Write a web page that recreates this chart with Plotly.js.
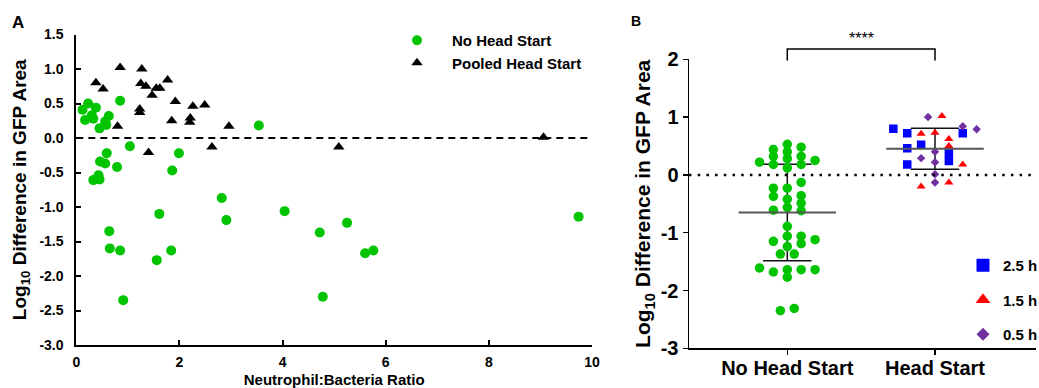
<!DOCTYPE html>
<html><head><meta charset="utf-8">
<script src="https://cdn.plot.ly/plotly-3.0.1.min.js"></script>
<style>html,body{margin:0;padding:0;background:#fff}#chart{width:1039px;height:388px}</style>
</head><body><div id="chart"></div>
<script>
// ---------- Panel A data ----------
const ratioNoHeadStart = [0.23,0.38,0.12,0.30,0.17,0.33,0.45,0.56,0.63,0.58,0.85,3.54,1.04,0.59,0.46,0.56,0.79,1.99,1.86,0.33,0.43,0.45,2.82,1.61,0.64,0.65,0.85,1.56,1.84,0.91,2.91,4.04,4.72,5.25,5.60,5.76,4.78,9.74];
const diffNoHeadStart  = [0.50,0.44,0.41,0.33,0.26,0.28,0.14,0.24,0.32,0.19,0.54,0.18,-0.12,-0.22,-0.34,-0.37,-0.42,-0.22,-0.47,-0.61,-0.54,-0.60,-0.87,-1.10,-1.35,-1.60,-1.63,-1.77,-1.63,-2.35,-1.19,-1.06,-1.37,-1.23,-1.67,-1.63,-2.30,-1.14];
const ratioPooledHeadStart = [0.38,0.52,0.85,1.27,0.80,1.25,1.35,1.47,1.55,1.62,1.77,1.23,1.23,1.92,1.85,2.21,2.20,2.26,2.49,2.96,1.40,2.63,5.09,9.06];
const diffPooledHeadStart  = [0.80,0.71,1.02,1.00,0.17,0.79,0.75,0.62,0.72,0.72,0.84,0.42,0.37,0.53,0.25,0.29,0.23,0.46,0.48,0.17,-0.21,-0.13,-0.13,0.01];
const aYTickVals = [1.5,1.0,0.5,0,-0.5,-1.0,-1.5,-2.0,-2.5,-3.0];
const aYTickText = ['1.5','1.0','0.5','0.0','-0.5','-1.0','-1.5','-2.0','-2.5','-3.0'];
const aXTickVals = [0,2,4,6,8,10];
const aXTickText = ['0','2','4','6','8','10'];

// ---------- Panel B data ----------
const groupLabels = ['No Head Start','Head Start'];
const bNoHeadStart    = [0.53,0.44,0.48,0.40,0.32,0.32,0.28,0.22,0.25,0.18,0.18,0.12,-0.13,-0.23,-0.23,-0.37,-0.36,-0.42,-0.49,-0.56,-0.61,-0.62,-0.89,-1.15,-1.06,-1.06,-1.12,-1.19,-1.24,-1.37,-1.37,-1.61,-1.68,-1.64,-1.64,-1.64,-1.77,-2.35,-2.31];
const bNoHeadStartCol = [0,-1,1,0,-1,1,0,-2,2,-1,1,0,1,-1,0,-1,1,0,1,0,-1,1,0,-1,0,1,2,1,0,-0.5,0.5,-2,-1,0,1,2,0,-0.5,0.5];
const b25h    = [0.80,0.72,0.46,0.52,0.18,0.37,0.24,0.72];
const b25hCol = [-3,-2,-2,-1,-2,1,1,2];
const b15h    = [1.02,0.71,0.73,0.62,0.50,0.18,-0.20,-0.13];
const b15hCol = [0.5,-1,0,1,1,2,-1,1];
const b05h    = [1.00,0.84,0.79,0.40,0.29,0.22,0.01,-0.13];
const b05hCol = [-0.5,2,3,0,-1,0,0,0];
const timeLabels = ['2.5 h','1.5 h','0.5 h'];
const bYTickVals = [2,1,0,-1,-2,-3];
const bYTickText = ['2','1','0','-1','-2','-3'];

// ---------- layout constants ----------
const FONT = 'Arial, "Liberation Sans", sans-serif';
const W = 1039, H = 388;
const axA = {x:[76.3/W, 592/W], y:[(H-345)/H, (H-34.5)/H]};
const axB = {x:[689/W, 1036/W], y:[(H-348.3)/H, (H-59.3)/H]};
const xRangeB = [-0.6655, 1.6838];
const yRangeB = [-3, 2];
const colStep = 0.094;
const GREEN = '#00c400', BLUE = '#0000ff', RED = '#ff0000', PURPLE = '#7030a0';

function mean(a){return a.reduce((s,v)=>s+v,0)/a.length;}
function sd(a){const m=mean(a);return Math.sqrt(a.reduce((s,v)=>s+(v-m)*(v-m),0)/(a.length-1));}
function paperX(v){return axB.x[0]+(v-xRangeB[0])/(xRangeB[1]-xRangeB[0])*(axB.x[1]-axB.x[0]);}
function paperY(v){return axB.y[0]+(v-yRangeB[0])/(yRangeB[1]-yRangeB[0])*(axB.y[1]-axB.y[0]);}

const headStartAll = b25h.concat(b15h, b05h);
const groups = [bNoHeadStart, headStartAll];

const traces = [];
// Panel A
traces.push({x:ratioNoHeadStart, y:diffNoHeadStart, type:'scatter', mode:'markers', name:'No Head Start',
  marker:{color:GREEN, size:10, symbol:'circle'}, xaxis:'x', yaxis:'y', legend:'legend', cliponaxis:false});
traces.push({x:ratioPooledHeadStart, y:diffPooledHeadStart, type:'scatter', mode:'markers', name:'Pooled Head Start',
  marker:{color:'#000', size:10, symbol:'triangle-up'}, xaxis:'x', yaxis:'y', legend:'legend', cliponaxis:false});

// Panel B: SD lines
groups.forEach((g,i)=>{
  const m = mean(g), s = sd(g);
  traces.push({x:[i,i], y:[m-s,m+s], type:'scatter', mode:'lines', line:{color:'#111', width:1.5}, xaxis:'x2', yaxis:'y2', showlegend:false, hoverinfo:'skip'});
  traces.push({x:[i-0.164,i+0.164], y:[m+s,m+s], type:'scatter', mode:'lines', line:{color:'#111', width:1.5}, xaxis:'x2', yaxis:'y2', showlegend:false, hoverinfo:'skip'});
  traces.push({x:[i-0.164,i+0.164], y:[m-s,m-s], type:'scatter', mode:'lines', line:{color:'#111', width:1.5}, xaxis:'x2', yaxis:'y2', showlegend:false, hoverinfo:'skip'});
});
// Panel B points
traces.push({x:bNoHeadStartCol.map(c=>0+c*colStep), y:bNoHeadStart, type:'scatter', mode:'markers',
  marker:{color:GREEN, size:9.5}, xaxis:'x2', yaxis:'y2', showlegend:false});
traces.push({x:b25hCol.map(c=>1+c*colStep), y:b25h, type:'scatter', mode:'markers',
  marker:{color:BLUE, size:8.5, symbol:'square'}, xaxis:'x2', yaxis:'y2', showlegend:false});
traces.push({x:b15hCol.map(c=>1+c*colStep), y:b15h, type:'scatter', mode:'markers',
  marker:{color:RED, size:8, symbol:'triangle-up'}, xaxis:'x2', yaxis:'y2', showlegend:false});
traces.push({x:b05hCol.map(c=>1+c*colStep), y:b05h, type:'scatter', mode:'markers',
  marker:{color:PURPLE, size:6.5, symbol:'diamond'}, xaxis:'x2', yaxis:'y2', showlegend:false});
// mean lines
groups.forEach((g,i)=>{
  const m = mean(g);
  traces.push({x:[i-0.33,i+0.33], y:[m,m], type:'scatter', mode:'lines', line:{color:'#555', width:2}, xaxis:'x2', yaxis:'y2', showlegend:false, hoverinfo:'skip'});
});
// Panel B legend entries
const legSyms = ['square','triangle-up','diamond'];
const legCols = [BLUE, RED, PURPLE];
const legSizes = [13, 13, 10];
timeLabels.forEach((t,i)=>{
  traces.push({x:[null], y:[null], type:'scatter', mode:'markers', name:t, legendgroup:'g'+i,
    marker:{color:legCols[i], size:legSizes[i], symbol:legSyms[i]}, xaxis:'x2', yaxis:'y2', legend:'legend2'});
});

const axisFontA = {family:FONT, size:14, color:'#000', weight:'bold'};
const layout = {
  width:W, height:H, margin:{l:0,r:0,t:0,b:0,autoexpand:false},
  paper_bgcolor:'#fff', plot_bgcolor:'rgba(0,0,0,0)',
  font:{family:FONT, color:'#000'},
  showlegend:true,
  xaxis:{domain:axA.x, range:[0,10], showgrid:false, zeroline:false, showline:true, linecolor:'#000', linewidth:2,
    ticks:'inside', ticklen:5, tickwidth:2, tickcolor:'#000', tickvals:aXTickVals, ticktext:aXTickText,
    tickfont:axisFontA, ticklabelstandoff:3, automargin:false,
    title:{text:'Neutrophil:Bacteria Ratio', font:{family:FONT, size:15, weight:'bold', color:'#000'}, standoff:10}},
  yaxis:{domain:axA.y, range:[-3,1.5], showgrid:false, zeroline:false, showline:true, linecolor:'#000', linewidth:2,
    ticks:'inside', ticklen:5, tickwidth:2, tickcolor:'#000', tickvals:aYTickVals, ticktext:aYTickText,
    tickfont:axisFontA, ticklabelstandoff:8, automargin:false,
    title:{text:'Log<sub>10</sub> Difference in GFP Area', font:{family:FONT, size:19, weight:'bold', color:'#000'}, standoff:8}},
  xaxis2:{domain:axB.x, range:xRangeB, anchor:'y2', showgrid:false, zeroline:false, showline:true, linecolor:'#000', linewidth:1.5,
    ticks:'outside', ticklen:5, tickwidth:1.5, tickcolor:'#000', tickvals:[0,1], ticktext:groupLabels, automargin:false,
    tickfont:{family:FONT, size:20, weight:'bold', color:'#000'}, ticklabelstandoff:-4},
  yaxis2:{domain:axB.y, range:yRangeB, anchor:'x2', showgrid:false, zeroline:false, showline:true, linecolor:'#000', linewidth:1.5,
    ticks:'outside', ticklen:5, tickwidth:1.5, tickcolor:'#000', tickvals:bYTickVals, ticktext:bYTickText, automargin:false,
    tickfont:{family:FONT, size:20, weight:'bold', color:'#000'},
    title:{text:'Log<sub>10</sub> Difference in GFP Area', font:{family:FONT, size:21, weight:'bold', color:'#000'}, standoff:4}},
  legend:{x:382/W, y:1-24/H, xanchor:'left', yanchor:'top', bgcolor:'rgba(0,0,0,0)', itemwidth:60,
    font:{family:FONT, size:15, weight:'bold', color:'#000'}, tracegroupgap:0},
  legend2:{x:963/W, y:1-249/H, xanchor:'left', yanchor:'top', bgcolor:'rgba(0,0,0,0)', itemwidth:30,
    traceorder:'grouped', tracegroupgap:12, font:{family:FONT, size:15, weight:'bold', color:'#000'}},
  shapes:[
    {type:'line', xref:'x domain', yref:'y', x0:0, x1:0.992, y0:0, y1:0, line:{color:'#000', width:2, dash:'7px,5px'}},
    {type:'line', xref:'x2 domain', yref:'y2', x0:0, x1:1, y0:0, y1:0, line:{color:'#000', width:2.5, dash:'2.5px,6.2px'}},
    {type:'path', xref:'paper', yref:'paper',
      path:'M'+paperX(0)+','+paperY(1.98)+' L'+paperX(0)+','+paperY(2.18)+' L'+paperX(1)+','+paperY(2.18)+' L'+paperX(1)+','+paperY(1.98),
      line:{color:'#000', width:1.5}}
  ],
  annotations:[
    {text:'A', xref:'paper', yref:'paper', x:18/W, y:1-22/H, xanchor:'center', yanchor:'middle', showarrow:false, font:{family:FONT, size:17, weight:'bold', color:'#000'}},
    {text:'B', xref:'paper', yref:'paper', x:636/W, y:1-21/H, xanchor:'center', yanchor:'middle', showarrow:false, font:{family:FONT, size:14, weight:'bold', color:'#000'}},
    {text:'****', xref:'paper', yref:'paper', x:paperX(0.5), y:paperY(2.36), xanchor:'center', yanchor:'middle', showarrow:false, font:{family:FONT, size:16, color:'#000'}}
  ]
};
Plotly.newPlot('chart', traces, layout, {staticPlot:true, displayModeBar:false});
</script></body></html>
